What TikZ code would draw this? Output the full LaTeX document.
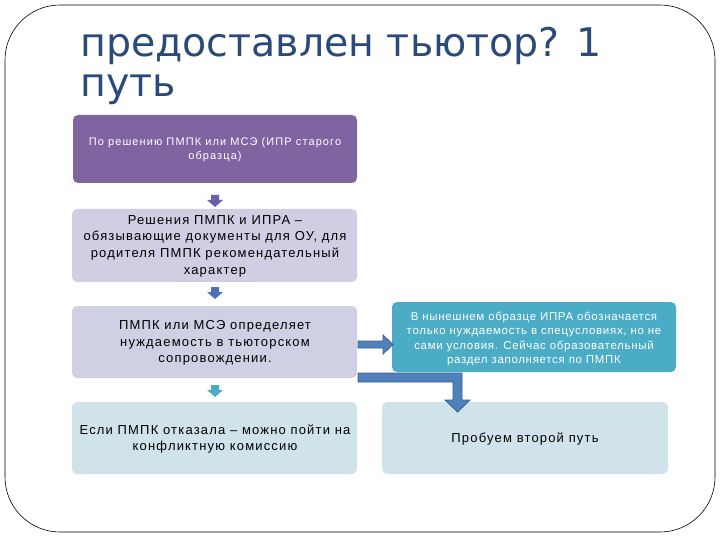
\documentclass[tikz,border=0pt]{standalone}
\usepackage{fontspec}
\setmainfont{Liberation Sans}
\newfontfamily\titlefont{DejaVu Sans}
\definecolor{titleblue}{RGB}{42,74,122}
\definecolor{purplebox}{RGB}{128,100,162}
\definecolor{lavbox}{RGB}{207,206,227}
\definecolor{lavbox2}{RGB}{208,208,228}
\definecolor{lightblue}{RGB}{208,227,234}
\definecolor{tealbox}{RGB}{75,172,198}
\definecolor{arrowfill}{RGB}{79,129,189}
\definecolor{arrowline}{RGB}{56,93,138}
\definecolor{arrowpurple}{RGB}{110,95,170}
\definecolor{arrowblue}{RGB}{79,111,184}
\definecolor{arrowteal}{RGB}{75,172,198}
\tikzset{
  boxtext/.style={align=center, font=\fontsize{13}{16.7}\selectfont\addfontfeature{LetterSpace=9}},
  blockarrow/.style={fill=arrowfill, draw=arrowline, line width=0.8pt, line join=miter},
  titletext/.style={anchor=base west, inner sep=0pt, text=titleblue, font=\titlefont\fontsize{39.5}{42}\selectfont}
}
\begin{document}
\begin{tikzpicture}[x=1pt,y=-1pt]
\useasboundingbox (0,0) rectangle (720,540);
% frame
\draw[black, line width=0.6pt, rounded corners=55pt] (5,5) rectangle (715,532);
% title
\node[titletext] (t1) at (80,57) {предоставлен тьютор? 1};
\node[titletext] (t2) at (80,97) {путь};
% boxes
\fill[purplebox, rounded corners=5pt] (73,115) rectangle (357,183);
\node[text=white, align=center, font=\fontsize{11}{14}\selectfont\addfontfeature{LetterSpace=10}] (b1) at (215,150) {По решению ПМПК или МСЭ (ИПР старого\\образца)};
\fill[lavbox, rounded corners=5pt] (72,209) rectangle (357,282);
\node[text=black, boxtext] (b2) at (215,246) {Решения ПМПК и ИПРА –\\обязывающие документы для ОУ, для\\родителя ПМПК рекомендательный\\характер};
\fill[lavbox2, rounded corners=5pt] (72,306) rectangle (357,378);
\node[text=black, boxtext] (b3) at (215,343) {ПМПК или МСЭ определяет\\нуждаемость в тьюторском\\сопровождении.};
\fill[lightblue, rounded corners=5pt] (72,402) rectangle (357,474);
\node[text=black, boxtext] (b4) at (215,439) {Если ПМПК отказала – можно пойти на\\конфликтную комиссию};
\fill[tealbox, rounded corners=5pt] (392,302) rectangle (676,372);
\node[text=white, align=center, font=\fontsize{11.5}{14.5}\selectfont\addfontfeature{LetterSpace=6}] (b5) at (534,339) {В нынешнем образце ИПРА обозначается\\только нуждаемость в спецусловиях, но не\\сами условия. Сейчас образовательный\\раздел заполняется по ПМПК};
\fill[lightblue, rounded corners=5pt] (382,402) rectangle (668,474);
\node[text=black, boxtext] (b6) at (525,439) {Пробуем второй путь};
% small down arrows
\fill[arrowpurple] (211,195) -- (219,195) -- (219,200) -- (223,200) -- (215,207) -- (207,200) -- (211,200) -- cycle;
\fill[arrowblue] (211,287) -- (219,287) -- (219,292) -- (223,292) -- (215,299) -- (207,292) -- (211,292) -- cycle;
\fill[arrowteal] (211,385) -- (219,385) -- (219,390) -- (223,390) -- (215,397) -- (207,390) -- (211,390) -- cycle;
% block arrow right
\draw[blockarrow] (358,341) -- (383,341) -- (383,335) -- (393,344.5) -- (383,354) -- (383,348) -- (358,348) -- cycle;
% bent block arrow
\draw[blockarrow] (358,373) -- (462,373) -- (462,400) -- (470,400) -- (457.5,412) -- (445,400) -- (453,400) -- (453,382) -- (358,382) -- cycle;
\end{tikzpicture}
\end{document}
